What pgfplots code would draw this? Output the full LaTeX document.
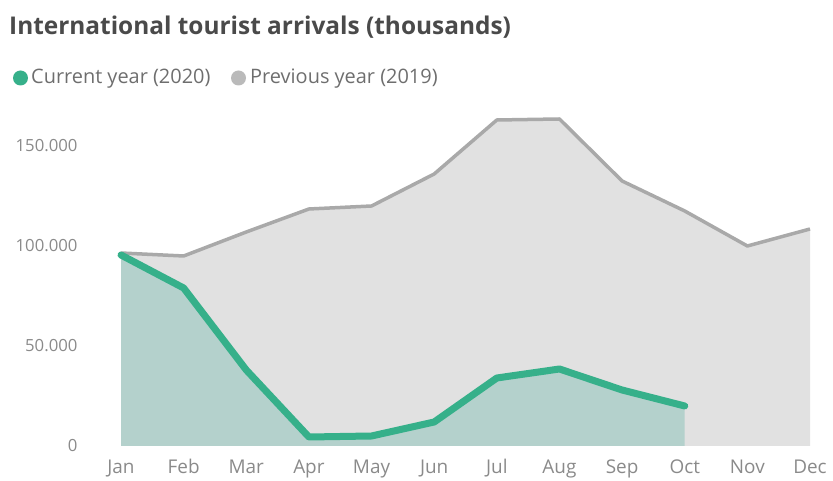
\documentclass[border=0pt]{standalone}
\usepackage{pgfplots}
\pgfplotsset{compat=1.18}
\usepackage{fontspec}
\setmainfont{Open Sans}
\definecolor{titlegray}{HTML}{4A4A4A}
\definecolor{textgray}{HTML}{6E6E6E}
\definecolor{tickgray}{HTML}{8A8A8A}
\definecolor{greenline}{HTML}{36B08A}
\definecolor{greenfill}{HTML}{B4D1CC}
\definecolor{grayline}{HTML}{A9A9A9}
\definecolor{grayfill}{HTML}{E1E1E1}
\begin{document}
\begin{tikzpicture}[x=1bp,y=1bp]
\path[use as bounding box] (0,0) rectangle (833,481);
\node[anchor=west, inner sep=0, text=titlegray, font=\fontsize{24.5}{28}\selectfont\bfseries] at (9,454) {International tourist arrivals (thousands)};
\fill[greenline] (20.5,403) circle (7.5);
\node[anchor=west, inner sep=0, text=textgray, font=\fontsize{20}{24}\selectfont] at (31,402) {Current year (2020)};
\fill[grayline!80] (238.5,403) circle (7.5);
\node[anchor=west, inner sep=0, text=textgray, font=\fontsize{20}{24}\selectfont] at (250,402) {Previous year (2019)};
\begin{axis}[
  at={(121bp,35bp)}, anchor=south west,
  scale only axis, width=689bp, height=340bp,
  xmin=0, xmax=11, ymin=0, ymax=170000,
  scaled y ticks=false,
  axis line style={draw=none}, tick style={draw=none},
  xtick={0,...,11},
  xticklabels={Jan,Feb,Mar,Apr,May,Jun,Jul,Aug,Sep,Oct,Nov,Dec},
  ytick={0,50000,100000,150000},
  yticklabels={0,50.000,100.000,150.000},
  xticklabel style={text=tickgray, font=\fontsize{19}{22}\selectfont, yshift=-10bp},
  yticklabel style={text=tickgray, font=\fontsize{16.8}{20}\selectfont, anchor=east, xshift=-40bp},
  clip=false,
]
\addplot[fill=grayfill, draw=none] coordinates {
(0,96500) (1,95000) (2,107000) (3,118500) (4,120000) (5,136000) (6,163000) (7,163500) (8,132500) (9,117500) (10,100000) (11,108500)
} \closedcycle;
\addplot[color=grayline, line width=3.5bp, line join=round] coordinates {
(0,96500) (1,95000) (2,107000) (3,118500) (4,120000) (5,136000) (6,163000) (7,163500) (8,132500) (9,117500) (10,100000) (11,108500)
};
\addplot[fill=greenfill, draw=none] coordinates {
(0,95500) (1,79000) (2,38000) (3,4500) (4,5000) (5,12000) (6,34000) (7,38500) (8,28000) (9,20000)
} \closedcycle;
\addplot[color=greenline, line width=7bp, line join=round, line cap=round] coordinates {
(0,95500) (1,79000) (2,38000) (3,4500) (4,5000) (5,12000) (6,34000) (7,38500) (8,28000) (9,20000)
};
\end{axis}
\end{tikzpicture}
\end{document}
